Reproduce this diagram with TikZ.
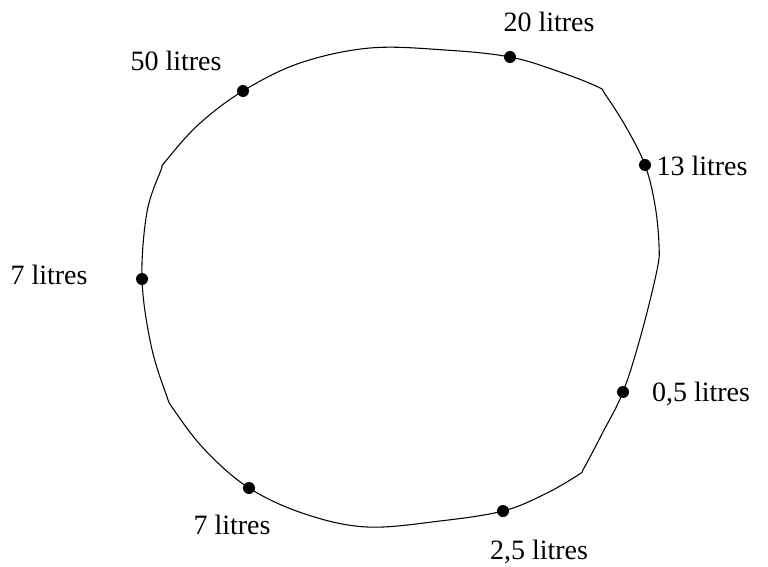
\documentclass[tikz,border=0pt]{standalone}
\usepackage{fontspec}
\setmainfont{Liberation Serif}
\begin{document}
\begin{tikzpicture}[x=0.75pt,y=-0.75pt,
  dot/.style={circle,fill=black,inner sep=0pt,minimum size=9pt},
  lbl/.style={inner sep=0pt,font=\fontsize{21}{25}\selectfont},
  blob/.style={line width=0.8pt,line join=round}]
\useasboundingbox (0,0) rectangle (768,567);
% outline
\draw[blob] plot[smooth cycle,tension=0.6] coordinates {
  (161,170) (165,162) (198,125) (243,91) (300,63) (370,48) (445,50) (510,57) (560,72) (598,87) (605,94)
  (626,127) (645,165) (655,205) (659,245) (657,270) (641,335) (623,392) (603,432) (584,468) (578,475)
  (545,494) (503,511) (440,521) (367,527) (305,514) (249,488) (205,450) (174,410) (166,394)
  (151,345) (142,279) (147,212)};
% dots
\node[dot] (d20) at (510,57) {};
\node[dot] (d50) at (243,91) {};
\node[dot] (d13) at (645,165) {};
\node[dot] (d7a) at (142,279) {};
\node[dot] (d05) at (623,392) {};
\node[dot] (d25) at (503,511) {};
\node[dot] (d7b) at (249,488) {};
% labels
\node[lbl] (l20) at (549,22) {20 litres};
\node[lbl] (l50) at (176,61) {50 litres};
\node[lbl] (l13) at (702,166) {13 litres};
\node[lbl] (l7a) at (49,275) {7 litres};
\node[lbl] (l05) at (701,394) {0,5 litres};
\node[lbl] (l25) at (539,552) {2,5 litres};
\node[lbl] (l7b) at (232,525) {7 litres};
\end{tikzpicture}
\end{document}
